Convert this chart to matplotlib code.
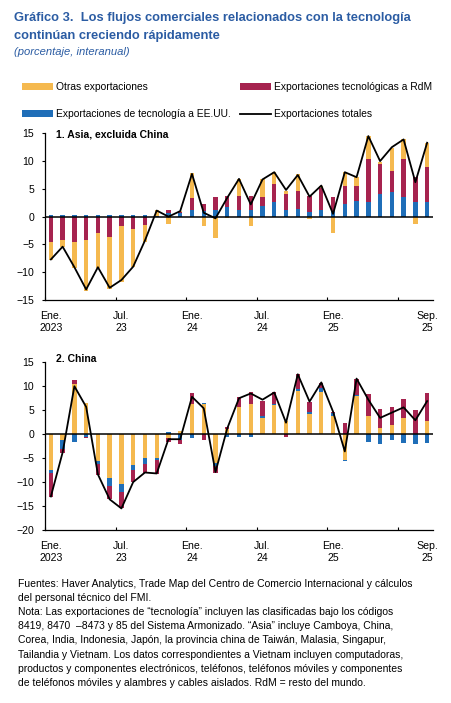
import numpy as np
import pandas as pd
import matplotlib
matplotlib.use('Agg')
import matplotlib.pyplot as plt

plt.rcParams['font.family'] = ['Liberation Sans', 'DejaVu Sans']

# meses: ene. 2023 - sep. 2025
meses = pd.date_range('2023-01-01', periods=33, freq='MS')
pos_etiquetas = [0, 6, 12, 18, 24, 32]
etiquetas = ['Ene.\n2023', 'Jul.\n23', 'Ene.\n24', 'Jul.\n24', 'Ene.\n25', 'Sep.\n25']
pos_marcas = [0, 6, 12, 18, 24, 30]

# 1. Asia, excluida China
otras_asia = [-3.3, -1.3, -4.7, -9.1, -6.3, -9.4, -10.2, -6.9, -3.0, 1.0, -1.3,
              0.2, 4.4, -1.7, -3.9, -0.3, 2.9, -1.6, 3.2, 2.2, 0.6, 2.9,
              -0.5, 0.3, -3.0, 2.5, 1.6, 4.2, 0.3, 4.1, 3.6, -1.3, 4.4]
rdm_asia = [-4.5, -4.2, -4.5, -4.2, -3.0, -3.6, -1.6, -2.2, -1.5, 0.1, 0.6,
            0.2, 2.2, 1.2, 2.3, 2.0, 2.6, 2.6, 1.5, 3.2, 2.9, 3.3,
            2.9, 4.0, 2.5, 3.2, 2.6, 7.7, 5.4, 3.9, 6.8, 4.6, 6.3]
eeuu_asia = [0.3, 0.3, 0.3, 0.3, 0.3, 0.3, 0.3, 0.3, 0.3, 0.1, 0.6,
             0.6, 1.2, 1.1, 1.2, 1.8, 1.2, 1.2, 2.0, 2.6, 1.2, 1.4,
             0.9, 1.2, 1.0, 2.3, 2.9, 2.6, 4.1, 4.4, 3.5, 2.6, 2.6]
total_asia = [-7.7, -5.4, -9.1, -13.1, -9.1, -12.8, -11.4, -9.0, -4.3, 1.1, 0.0,
              1.0, 7.7, 0.7, -0.3, 3.4, 6.8, 2.2, 6.7, 8.0, 4.8, 7.5,
              3.6, 5.6, 0.5, 8.0, 7.1, 14.5, 10.0, 12.5, 13.9, 6.2, 13.3]

# 2. China
otras_china = [-7.5, -1.25, 10.4, 6.6, -5.6, -9.1, -10.4, -6.5, -4.9, -4.9, -0.9,
               0.7, 6.2, 6.2, -6.1, 1.0, 5.7, 6.3, 3.4, 6.1, 2.8, 9.0,
               4.3, 8.85, 3.8, -5.3, 7.9, 3.8, 1.3, 2.0, 3.4, 0.0, 2.7]
eeuu_china = [-0.56, -1.75, -1.6, -0.5, -0.7, -1.7, -1.6, -1.0, -1.25, -0.55, 0.35,
              -1.25, -0.9, 0.3, -0.5, -0.5, -0.55, -0.55, 0.3, 0.3, 0.0, 0.4,
              0.35, 0.85, 0.55, -0.4, 0.35, -1.6, -1.95, -1.25, -1.8, -2.15, -1.8]
rdm_china = [-5.0, -0.85, 0.9, -0.4, -2.2, -2.8, -3.5, -2.4, -1.9, -2.8, -0.7,
             -0.7, 2.4, -1.2, -1.5, 0.5, 2.0, 2.6, 3.3, 2.4, -0.5, 3.1,
             2.0, 0.9, 0.35, 2.3, 3.35, 4.5, 4.0, 3.7, 3.9, 5.0, 5.9]
total_china = [-13.0, -3.8, 10.0, 5.7, -8.4, -13.6, -15.5, -10.0, -8.0, -8.2, -1.05,
               -1.05, 7.8, 5.4, -7.9, 1.2, 7.5, 8.5, 7.2, 8.7, 2.4, 12.5,
               6.8, 10.8, 4.7, -3.6, 11.6, 7.2, 3.4, 4.5, 5.6, 2.9, 6.9]

AMARILLO = '#F5B94F'
GRANATE = '#A6234F'
AZUL = '#1F6EB8'
AZUL_TITULO = '#2B5CA3'


def apilar(ax, x, series):
    pos = np.zeros(len(x))
    neg = np.zeros(len(x))
    barras = {}
    for nombre, vals, color in series:
        vals = np.asarray(vals, dtype=float)
        base = np.where(vals >= 0, pos, neg)
        barras[nombre] = ax.bar(x, vals, 0.37, bottom=base, color=color,
                                label=nombre, zorder=2, linewidth=0)
        pos += np.where(vals >= 0, vals, 0)
        neg += np.where(vals < 0, vals, 0)
    return barras


def panel(ax, series, total, ylim, yticks, titulo, ytit):
    x = np.arange(len(meses))
    barras = apilar(ax, x, series)
    ax.axhline(0, color='black', lw=1.1, zorder=3)
    linea, = ax.plot(x, total, color='black', lw=1.3, zorder=4,
                     label='Exportaciones totales')
    ax.set_xlim(-0.5, len(meses) - 0.5)
    ax.set_ylim(*ylim)
    ax.set_yticks(yticks)
    ax.set_xticks([p - 0.5 for p in pos_marcas])
    ax.set_xticklabels([])
    ax.set_xticks(pos_etiquetas, minor=True)
    ax.set_xticklabels(etiquetas, minor=True)
    ax.tick_params(axis='x', which='major', direction='in', length=2.5, width=0.8)
    ax.tick_params(axis='x', which='minor', length=0, pad=8, labelsize=7.6)
    ax.tick_params(axis='y', direction='out', length=2.2, width=0.8,
                   labelsize=7.6, pad=5.5)
    for s in ['top', 'right']:
        ax.spines[s].set_visible(False)
    for s in ['left', 'bottom']:
        ax.spines[s].set_linewidth(0.9)
    ax.text(0.028, ytit, titulo, transform=ax.transAxes, fontsize=7.5,
            fontweight='bold', va='center', ha='left')
    return barras, linea


fig = plt.figure(figsize=(4.52, 7.03), dpi=100)
ax1 = fig.add_axes([45 / 452, 1 - 300 / 703, 388 / 452, 166.7 / 703])
ax2 = fig.add_axes([45 / 452, 1 - 530 / 703, 388 / 452, 167.7 / 703])

b1, l1 = panel(ax1, [('Exportaciones de tecnología a EE.UU.', eeuu_asia, AZUL),
                     ('Exportaciones tecnológicas a RdM', rdm_asia, GRANATE),
                     ('Otras exportaciones', otras_asia, AMARILLO)],
               total_asia, (-15, 15), range(-15, 16, 5),
               '1. Asia, excluida China', 0.995)
b2, l2 = panel(ax2, [('Otras exportaciones', otras_china, AMARILLO),
                     ('Exportaciones de tecnología a EE.UU.', eeuu_china, AZUL),
                     ('Exportaciones tecnológicas a RdM', rdm_china, GRANATE)],
               total_china, (-20, 15), range(-20, 16, 5), '2. China', 1.02)

# titulo
fig.text(14 / 452, 1 - 18 / 703,
         'Gráfico 3.  Los flujos comerciales relacionados con la tecnología',
         fontsize=9.3, fontweight='bold', color=AZUL_TITULO, va='center')
fig.text(14 / 452, 1 - 36 / 703, 'continúan creciendo rápidamente',
         fontsize=9.3, fontweight='bold', color=AZUL_TITULO, va='center')
fig.text(14 / 452, 1 - 52 / 703, '(porcentaje, interanual)',
         fontsize=8.1, style='italic', color=AZUL_TITULO, va='center')

# leyenda
orden = ['Otras exportaciones', 'Exportaciones de tecnología a EE.UU.',
         'Exportaciones tecnológicas a RdM']
handles = [b1[n] for n in orden] + [l1]
labels = orden + ['Exportaciones totales']
fig.legend(handles, labels, ncol=2, loc='upper left',
           bbox_to_anchor=(22 / 452, 1 - 82 / 703), frameon=False,
           fontsize=7.4, handlelength=3.0, handleheight=0.6, handletextpad=0.3,
           columnspacing=0.9, labelspacing=1.65, borderpad=0, borderaxespad=0)

# notas
notas = [
    'Fuentes: Haver Analytics, Trade Map del Centro de Comercio Internacional y cálculos',
    'del personal técnico del FMI.',
    'Nota: Las exportaciones de “tecnología” incluyen las clasificadas bajo los códigos',
    '8419, 8470  –8473 y 85 del Sistema Armonizado. “Asia” incluye Camboya, China,',
    'Corea, India, Indonesia, Japón, la provincia china de Taiwán, Malasia, Singapur,',
    'Tailandia y Vietnam. Los datos correspondientes a Vietnam incluyen computadoras,',
    'productos y componentes electrónicos, teléfonos, teléfonos móviles y componentes',
    'de teléfonos móviles y alambres y cables aislados. RdM = resto del mundo.',
]
for i, linea in enumerate(notas):
    fig.text(18 / 452, 1 - (584 + i * 14.1) / 703, linea, fontsize=7.45,
             va='center', ha='left')

fig.savefig('out.png', dpi=100)
